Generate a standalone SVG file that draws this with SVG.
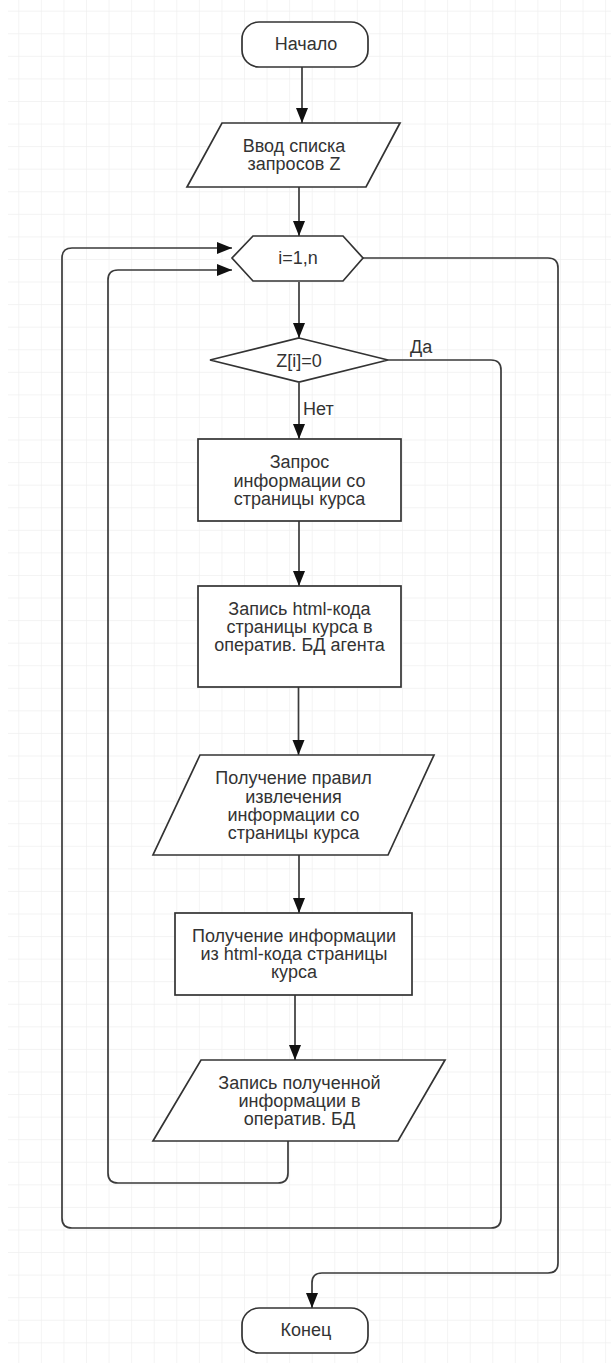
<svg xmlns="http://www.w3.org/2000/svg" width="611" height="1363" viewBox="0 0 611 1363">
<style>
.sh{fill:#fff;stroke:#333;stroke-width:1.7}
.cn{fill:none;stroke:#3a3a3a;stroke-width:1.7}
text{font-family:"Liberation Sans",Arial,sans-serif;font-size:18px;fill:#333;text-anchor:middle}
.lb{text-anchor:start}
</style>
<defs>
<pattern id="grid" patternUnits="userSpaceOnUse" x="18.3" y="10.7" width="22.57" height="22.57">
<path d="M0,0 H22.57 M0,0 V22.57" fill="none" stroke="#efefef" stroke-width="1.3"/>
</pattern>
<marker id="ah" markerUnits="userSpaceOnUse" markerWidth="16" markerHeight="13" refX="15" refY="6" orient="auto">
<path d="M0,0 L15,6 L0,12 z" fill="#111"/>
</marker>
</defs>
<rect width="611" height="1363" fill="#fff"/>
<rect x="8" y="0" width="603" height="1363" fill="url(#grid)"/>

<g id="connectors">
<path class="cn" d="M302,67 V123" marker-end="url(#ah)"/>
<path class="cn" d="M299,187 V236" marker-end="url(#ah)"/>
<path class="cn" d="M299,282 V338" marker-end="url(#ah)"/>
<path class="cn" d="M299,383 V439" marker-end="url(#ah)"/>
<path class="cn" d="M299,521 V586" marker-end="url(#ah)"/>
<path class="cn" d="M298.5,687 V755" marker-end="url(#ah)"/>
<path class="cn" d="M299,855 V913" marker-end="url(#ah)"/>
<path class="cn" d="M295,995 V1060" marker-end="url(#ah)"/>
<path class="cn" d="M288,1141 V1173 Q288,1183 278,1183 H118 Q108,1183 108,1173 V280 Q108,270 118,270 H232" marker-end="url(#ah)"/>
<path class="cn" d="M388,360 H491 Q501,360 501,370 V1218 Q501,1228 491,1228 H72 Q62,1228 62,1218 V258 Q62,248 72,248 H232" marker-end="url(#ah)"/>
<path class="cn" d="M363,258 H548 Q558,258 558,268 V1263 Q558,1273 548,1273 H322 Q312,1273 312,1283 V1308" marker-end="url(#ah)"/>
<text class="lb" x="410" y="353">Да</text>
<text class="lb" x="303" y="415">Нет</text>
</g>

<g id="start">
<rect class="sh" x="242" y="22" width="126" height="45" rx="17"/>
<text x="306" y="50">Начало</text>
</g>

<g id="input">
<polygon class="sh" points="222,123 400,123 366,187 187,187"/>
<text x="294" y="152">Ввод списка</text>
<text x="294" y="170">запросов Z</text>
</g>

<g id="loop">
<polygon class="sh" points="253,236 343,236 363,258 343,281 253,281 232,258"/>
<text x="298" y="264">i=1,n</text>
</g>

<g id="cond">
<polygon class="sh" points="299,338 388,360 299,382 210,360"/>
<text x="299" y="367">Z[i]=0</text>
</g>

<g id="req">
<rect class="sh" x="198" y="439" width="203" height="82"/>
<text x="299.5" y="468">Запрос</text>
<text x="299.5" y="487">информации со</text>
<text x="299.5" y="505">страницы курса</text>
</g>

<g id="save-html">
<rect class="sh" x="198" y="586" width="203" height="101"/>
<text x="299.5" y="615">Запись html-кода</text>
<text x="299.5" y="633">страницы курса в</text>
<text x="299.5" y="651">оператив. БД агента</text>
</g>

<g id="rules">
<polygon class="sh" points="200,755 434,755 388,855 153,855"/>
<text x="293.5" y="784">Получение правил</text>
<text x="293.5" y="803">извлечения</text>
<text x="293.5" y="821">информации со</text>
<text x="293.5" y="839">страницы курса</text>
</g>

<g id="extract">
<rect class="sh" x="175" y="913" width="237" height="82"/>
<text x="294" y="942">Получение информации</text>
<text x="294" y="960">из html-кода страницы</text>
<text x="294" y="978">курса</text>
</g>

<g id="save">
<polygon class="sh" points="201,1060 445,1060 398,1141 153,1141"/>
<text x="299.5" y="1089">Запись полученной</text>
<text x="299.5" y="1107">информации в</text>
<text x="299.5" y="1125">оператив. БД</text>
</g>

<g id="end">
<rect class="sh" x="242" y="1308" width="126" height="45" rx="17"/>
<text x="306" y="1336">Конец</text>
</g>
</svg>
